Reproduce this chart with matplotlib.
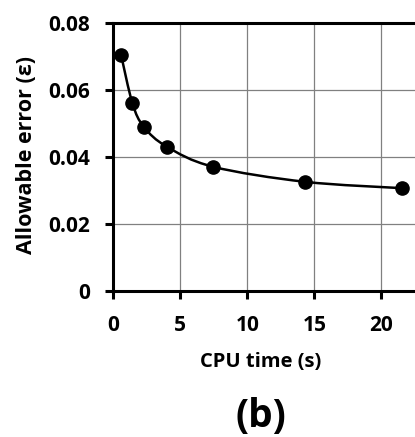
import matplotlib
matplotlib.use("Agg")
import matplotlib.pyplot as plt
from matplotlib.path import Path
from matplotlib.patches import PathPatch
import numpy as np

# values
cpu_time = [0.6, 1.45, 2.3, 4.0, 7.45, 14.3, 21.5]
allowable_error = [0.0705, 0.056, 0.049, 0.0431, 0.0371, 0.0326, 0.0307]
x_ticks = [0, 5, 10, 15, 20]
y_ticks = [0, 0.02, 0.04, 0.06, 0.08]
y_tick_labels = ["0", "0.02", "0.04", "0.06", "0.08"]

plt.rcParams['font.family'] = ['Open Sans', 'DejaVu Sans']
plt.rcParams['font.weight'] = 'bold'

fig = plt.figure(figsize=(4.15, 4.37), dpi=100)
ax = fig.add_axes([113 / 415, 146 / 437, 302 / 415, 268 / 437])

# smoothed line like a spreadsheet "smooth line" (bezier through the points)
pts = np.column_stack([cpu_time, allowable_error])
verts = [pts[0]]
codes = [Path.MOVETO]
n = len(pts)
for i in range(n - 1):
    p0 = pts[i - 1] if i > 0 else pts[i]
    p1 = pts[i]
    p2 = pts[i + 1]
    p3 = pts[i + 2] if i + 2 < n else pts[i + 1]
    c1 = p1 + (p2 - p0) / 6
    c2 = p2 - (p3 - p1) / 6
    verts += [c1, c2, p2]
    codes += [Path.CURVE4] * 3
ax.add_patch(PathPatch(Path(verts, codes), fill=False, lw=1.8, color='black', zorder=3))
ax.plot(cpu_time, allowable_error, 'o', color='black', markersize=9.5, zorder=4)

ax.set_xlim(0, 22.5)
ax.set_ylim(0, 0.08)
ax.set_xticks(x_ticks)
ax.set_yticks(y_ticks)
ax.set_yticklabels(y_tick_labels)
ax.grid(True, color='#808080', lw=0.9)
ax.set_axisbelow(True)

for s in ['left', 'bottom', 'top']:
    ax.spines[s].set_linewidth(2.2)
ax.spines['right'].set_visible(False)
ax.tick_params(direction='out', length=6, width=2.2, labelsize=15)
ax.tick_params(axis='y', pad=10.5)
ax.tick_params(axis='x', pad=11.5)
for lab in ax.get_xticklabels() + ax.get_yticklabels():
    lab.set_fontweight('bold')

fig.text(26 / 415, 1 - 155 / 437, "Allowable error (\u03b5)", rotation=90,
         ha='center', va='center', fontsize=15.5, fontweight='bold')
fig.text(261 / 415, 1 - 362 / 437, "CPU time (s)", ha='center', va='center',
         fontsize=14.5, fontweight='bold')
fig.text(261 / 415, 1 - 417 / 437, "(b)", ha='center', va='center',
         fontsize=28, fontweight='bold')

fig.savefig("out.png", dpi=100)
